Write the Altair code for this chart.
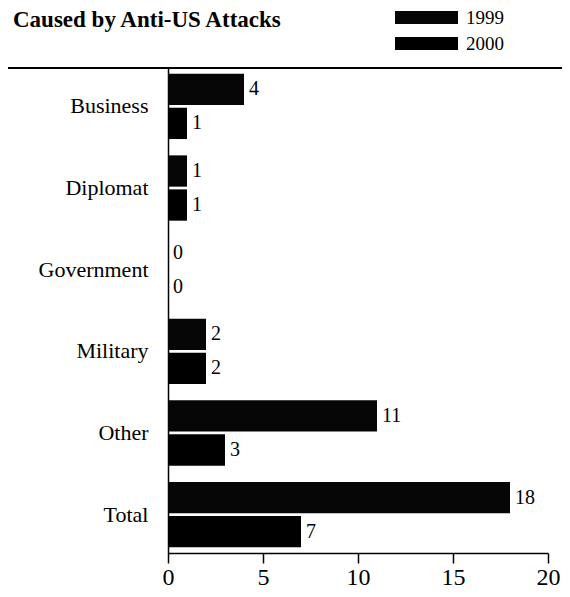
import altair as alt
import pandas as pd

# ---- data ----
categories = ["Business", "Diplomat", "Government", "Military", "Other", "Total"]
years = ["1999", "2000"]
values_1999 = [4, 1, 0, 2, 11, 18]
values_2000 = [1, 1, 0, 2, 3, 7]
x_ticks = [0, 5, 10, 15, 20]
title_text = ["Caused by Anti-US Attacks"]
year_colors = ["#060606", "#000000"]

rows = []
for c, a, b in zip(categories, values_1999, values_2000):
    rows.append({"category": c, "year": years[0], "value": a})
    rows.append({"category": c, "year": years[1], "value": b})
df = pd.DataFrame(rows)

SERIF = "Liberation Serif"

y_enc = alt.Y(
    "category:N",
    sort=categories,
    scale=alt.Scale(paddingInner=0.2, paddingOuter=0.07),
    axis=alt.Axis(
        title=None, ticks=False, domain=True, domainColor="black", domainWidth=1.5,
        labelFont=SERIF, labelFontSize=22, labelColor="black", labelPadding=20,
    ),
)
yoff = alt.YOffset("year:N", sort=years, scale=alt.Scale(paddingInner=0.08))
x_enc = alt.X(
    "value:Q",
    scale=alt.Scale(domain=[0, 20]),
    axis=alt.Axis(
        values=x_ticks, title=None, grid=False, tickSize=10, tickColor="black",
        tickWidth=1.5, domainColor="black", domainWidth=1.5, labelFont=SERIF,
        labelFontSize=24, labelColor="black", labelPadding=2, labelFlush=False,
    ),
)

bars = alt.Chart(df).mark_bar(strokeWidth=0).encode(
    x=x_enc,
    y=y_enc,
    yOffset=yoff,
    color=alt.Color(
        "year:N", sort=years,
        scale=alt.Scale(domain=years, range=year_colors),
        legend=None,
    ),
)

labels = alt.Chart(df).mark_text(
    align="left", baseline="middle", dx=5, font=SERIF, fontSize=20, color="black"
).encode(x="value:Q", y=alt.Y("category:N", sort=categories), yOffset=alt.YOffset("year:N", sort=years), text="value:Q")

top_rule = alt.Chart(pd.DataFrame({"t": title_text})).mark_rule(color="black", strokeWidth=2).encode(
    x=alt.value(-170), x2=alt.value(400), y=alt.value(0)
)

title = alt.Chart(pd.DataFrame({"t": title_text})).mark_text(
    align="left", baseline="alphabetic", font=SERIF, fontSize=23, fontWeight="bold", color="black"
).encode(text="t:N", x=alt.value(-155), y=alt.value(-41))

# manual legend (wide rectangular swatches, as in the reference)
legend_layers = []
legend_tops = [-57, -31]
for yr, col, top in zip(years, year_colors, legend_tops):
    d = pd.DataFrame({"year": [yr]})
    legend_layers.append(
        alt.Chart(d).mark_rect(color=col).encode(
            x=alt.value(227), x2=alt.value(290), y=alt.value(top), y2=alt.value(top + 13)
        )
    )
    legend_layers.append(
        alt.Chart(d).mark_text(
            align="left", baseline="middle", font=SERIF, fontSize=19, color="black"
        ).encode(text="year:N", x=alt.value(298), y=alt.value(top + 7))
    )

chart = (
    alt.layer(bars, labels, top_rule, title, *legend_layers)
    .properties(
        width=380,
        height=485,
        autosize=alt.AutoSizeParams(type="none"),
        padding={"left": 160, "top": 60, "right": 14, "bottom": 36},
    )
    .configure_view(stroke=None)
)

chart.save("out.html", embed_options={"renderer": "svg", "actions": False})
